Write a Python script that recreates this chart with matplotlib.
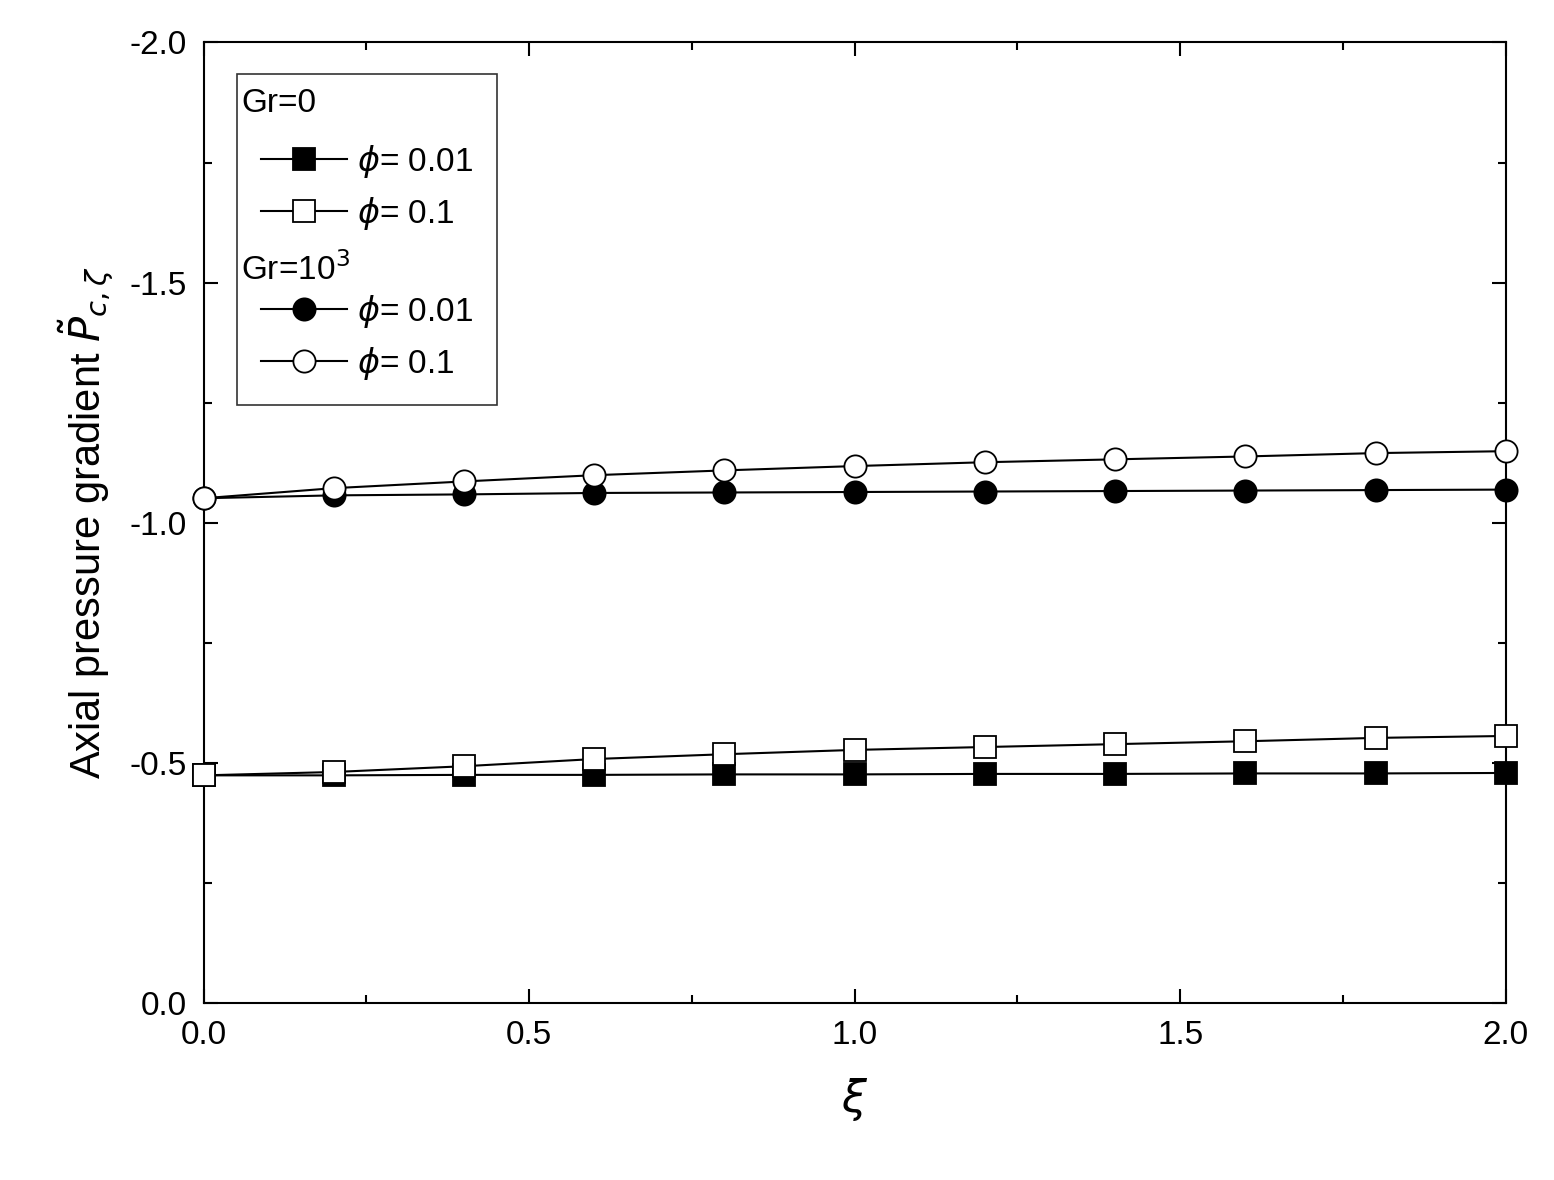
import matplotlib
matplotlib.use("Agg")
import matplotlib.pyplot as plt
from matplotlib.lines import Line2D
from matplotlib.ticker import MultipleLocator

xi = [0.0, 0.2, 0.4, 0.6, 0.8, 1.0, 1.2, 1.4, 1.6, 1.8, 2.0]
gr0_phi001 = [-0.474, -0.474, -0.475, -0.475, -0.476, -0.476, -0.477, -0.477, -0.478, -0.478, -0.479]
gr0_phi01 = [-0.474, -0.481, -0.493, -0.508, -0.518, -0.527, -0.533, -0.539, -0.545, -0.552, -0.556]
gr1000_phi001 = [-1.051, -1.057, -1.059, -1.062, -1.063, -1.064, -1.065, -1.066, -1.067, -1.068, -1.069]
gr1000_phi01 = [-1.051, -1.072, -1.086, -1.099, -1.109, -1.118, -1.126, -1.132, -1.138, -1.145, -1.149]

plt.rcParams['font.family'] = ['Liberation Sans', 'DejaVu Sans']
fig = plt.figure(figsize=(15.54, 11.8), dpi=100)
ax = fig.add_axes([0.131, 0.150, 0.838, 0.814])

kw = dict(color='black', lw=1.5, markersize=16, markeredgewidth=1.3, clip_on=False, zorder=3)
l1, = ax.plot(xi, gr0_phi001, marker='s', markerfacecolor='black', **kw)
l2, = ax.plot(xi, gr0_phi01, marker='s', markerfacecolor='white', **kw)
l3, = ax.plot(xi, gr1000_phi001, marker='o', markerfacecolor='black', **kw)
l4, = ax.plot(xi, gr1000_phi01, marker='o', markerfacecolor='white', **kw)

ax.set_xlim(0, 2.0)
ax.set_ylim(0, -2.0)
ax.xaxis.set_major_locator(MultipleLocator(0.5))
ax.xaxis.set_minor_locator(MultipleLocator(0.25))
ax.yaxis.set_major_locator(MultipleLocator(0.5))
ax.yaxis.set_minor_locator(MultipleLocator(0.25))
ax.xaxis.set_major_formatter(matplotlib.ticker.FormatStrFormatter('%.1f'))
ax.yaxis.set_major_formatter(matplotlib.ticker.FormatStrFormatter('%.1f'))
ax.tick_params(which='both', direction='in', top=True, right=True, labelsize=24, width=1.5)
ax.tick_params(which='major', length=10, pad=12)
ax.tick_params(which='minor', length=6)
for s in ax.spines.values():
    s.set_linewidth(1.5)

ax.set_xlabel(r'$\xi$', fontsize=32, labelpad=18)
ax.set_ylabel(r'Axial pressure gradient $\tilde{P}_{c,\zeta}$', fontsize=30, labelpad=10)

blank = Line2D([], [], color='none')
handles = [blank, l1, l2, blank, l3, l4]
labels = [' ', r'$\phi$= 0.01', r'$\phi$= 0.1', ' ', r'$\phi$= 0.01', r'$\phi$= 0.1']
leg = ax.legend(handles, labels, loc='upper left', fontsize=24, frameon=True, fancybox=False,
                edgecolor='black', handlelength=2.6, handletextpad=0.3, borderpad=0.7,
                labelspacing=0.45, bbox_to_anchor=(0.013, 0.985))
leg.get_frame().set_linewidth(1.2)
fig.text(241 / 1554, 1 - 104 / 1180, 'Gr=0', fontsize=24, va='center', ha='left')
fig.text(241 / 1554, 1 - 270 / 1180, r'Gr=10$^3$', fontsize=24, va='center', ha='left')
fig.savefig('out.png', dpi=100)
